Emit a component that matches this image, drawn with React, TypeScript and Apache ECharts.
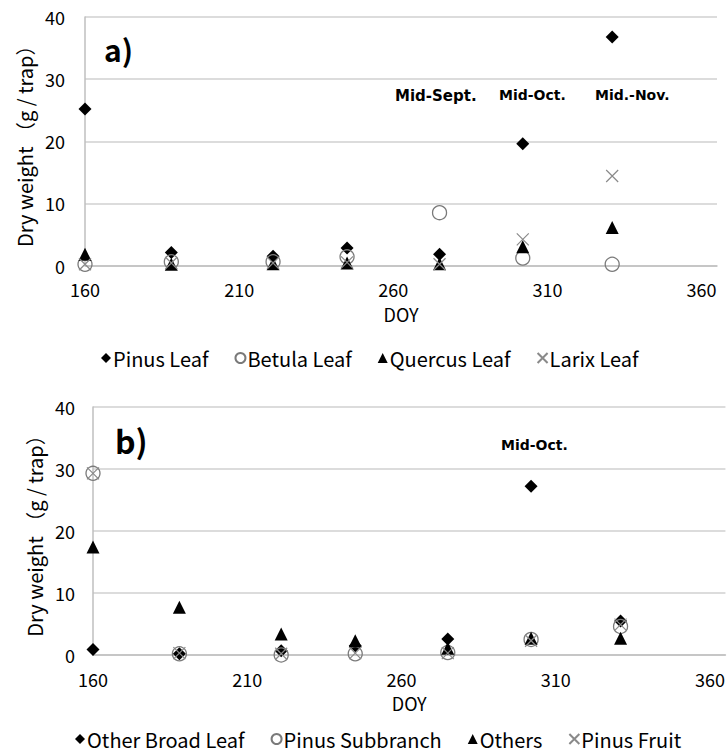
import React, { useEffect, useRef } from "react";
import * as echarts from "echarts";

// ---- data ----
const doy = [160, 188, 221, 245, 275, 302, 331];
const xTicks = [160, 210, 260, 310, 360];

// panel a)
const pinusLeaf = [25.2, 2.1, 1.5, 2.8, 1.8, 19.6, 36.8];
const betulaLeaf = [0.2, 0.6, 0.6, 1.4, 8.5, 1.2, 0.2];
const quercusLeaf = [1.8, 0.2, 0.3, 0.4, 0.3, 3.0, 6.1];
const larixLeaf = [0.2, 0.4, 0.4, 0.5, 0.2, 4.2, 14.4];

// panel b)
const otherBroadLeaf = [0.9, 0.2, 0.7, 1.5, 2.6, 27.2, 5.5];
const pinusSubbranch = [29.3, 0.2, 0.0, 0.2, 0.4, 2.5, 4.6];
const others = [17.4, 7.7, 3.4, 2.3, 1.1, 2.7, 2.7];
const pinusFruit = [29.3, 0.3, 0.2, 0.3, 0.3, 2.3, 4.9];

const namesA = ["Pinus Leaf", "Betula Leaf", "Quercus Leaf", "Larix Leaf"];
const namesB = ["Other Broad Leaf", "Pinus Subbranch", "Others", "Pinus Fruit"];

const FONT = '"Noto Sans CJK JP", "Noto Sans", sans-serif';
const BOLDFONT = '"DejaVu Sans", sans-serif';
const CROSS = "path://M0,0L10,10M0,10L10,0";

const pts = (vals: number[]) => doy.map((d, i) => [d, vals[i]]);

const styleFor = (k: number) => {
  if (k === 0) return { symbol: "diamond", symbolSize: 13, itemStyle: { color: "#000", opacity: 1 } };
  if (k === 1)
    return {
      symbol: "circle",
      symbolSize: 14,
      itemStyle: { color: "rgba(255,255,255,0)", borderColor: "#7a7a7a", borderWidth: 1.3, opacity: 1 },
    };
  if (k === 2) return { symbol: "triangle", symbolSize: 13, itemStyle: { color: "#000", opacity: 1 } };
  return {
    symbol: CROSS,
    symbolSize: 12,
    itemStyle: { color: "rgba(0,0,0,0)", borderColor: "#8a8a8a", borderWidth: 1.2, opacity: 1 },
  };
};

const xAxisFor = (gridIndex: number, labelMargin: number) => ({
  type: "value",
  gridIndex,
  min: 160,
  max: 365,
  name: "DOY",
  nameLocation: "middle",
  nameGap: 39,
  nameTextStyle: { fontSize: 18, color: "#000", fontFamily: FONT },
  axisLine: { show: true, onZero: true, lineStyle: { color: "#bfbfbf", width: 1.5 } },
  axisTick: { show: false },
  splitLine: { show: false },
  axisLabel: {
    customValues: xTicks,
    fontSize: 18,
    color: "#000",
    margin: labelMargin,
    fontFamily: FONT,
  },
});

const yAxisFor = (gridIndex: number, margin: number, nameGap: number) => ({
  type: "value",
  gridIndex,
  min: 0,
  max: 40,
  interval: 10,
  name: "Dry weight （g / trap）",
  nameLocation: "middle",
  nameGap,
  nameRotate: 90,
  nameTextStyle: { fontSize: 20, color: "#000", fontFamily: FONT },
  axisLine: { show: true, lineStyle: { color: "#bfbfbf", width: 1.5 } },
  axisTick: { show: false },
  splitLine: { show: true, lineStyle: { color: "#d0d0d0", width: 1.5 } },
  axisLabel: { fontSize: 18, color: "#000", margin, fontFamily: FONT },
});

export default function App() {
  const ref = useRef<HTMLDivElement>(null);

  useEffect(() => {
    document.body.style.margin = "0";
    if (!ref.current) return;
    const chart = echarts.init(ref.current, null, { renderer: "svg" });

    const seriesA = [pinusLeaf, betulaLeaf, quercusLeaf, larixLeaf].map((v, k) => ({
      name: namesA[k],
      type: "scatter",
      xAxisIndex: 0,
      yAxisIndex: 0,
      data: pts(v),
      z: 2 + k,
      ...styleFor(k),
    }));
    const seriesB = [otherBroadLeaf, pinusSubbranch, others, pinusFruit].map((v, k) => ({
      name: namesB[k],
      type: "scatter",
      xAxisIndex: 1,
      yAxisIndex: 1,
      data: pts(v),
      z: 2 + k,
      ...styleFor(k),
    }));

    const legendCommon = {
      orient: "horizontal",
      itemWidth: 10,
      itemHeight: 10,
      itemGap: 26,
      textStyle: { fontSize: 20, color: "#000", fontFamily: FONT, padding: [0, 0, 0, -3] },
    };

    chart.setOption({
      animation: false,
      backgroundColor: "#fff",
      textStyle: { fontFamily: FONT },
      grid: [
        { left: 85, top: 17, width: 632, height: 248.5 },
        { left: 93, top: 407, width: 633, height: 248 },
      ],
      xAxis: [xAxisFor(0, 14), xAxisFor(1, 15)],
      yAxis: [yAxisFor(0, 20, 48), yAxisFor(1, 18, 49)],
      legend: [
        { ...legendCommon, data: namesA, left: 96, top: 343 },
        { ...legendCommon, data: namesB, left: 70, top: 724 },
      ],
      graphic: [
        { type: "text", left: 104, top: 34, style: { text: "a)", font: `bold 30px ${FONT}`, fill: "#000" } },
        { type: "text", left: 115, top: 424, style: { text: "b)", font: `bold 32px ${FONT}`, fill: "#000" } },
        { type: "text", left: 395, top: 88, style: { text: "Mid-Sept.", font: `bold 15px ${BOLDFONT}`, fill: "#000" } },
        { type: "text", left: 499, top: 88, style: { text: "Mid-Oct.", font: `bold 14px ${BOLDFONT}`, fill: "#000" } },
        { type: "text", left: 595, top: 88, style: { text: "Mid.-Nov.", font: `bold 14px ${BOLDFONT}`, fill: "#000" } },
        { type: "text", left: 501, top: 438, style: { text: "Mid-Oct.", font: `bold 14px ${BOLDFONT}`, fill: "#000" } },
      ],
      series: [...seriesA, ...seriesB],
    });

    return () => chart.dispose();
  }, []);

  return <div ref={ref} style={{ width: 728, height: 754 }} />;
}
